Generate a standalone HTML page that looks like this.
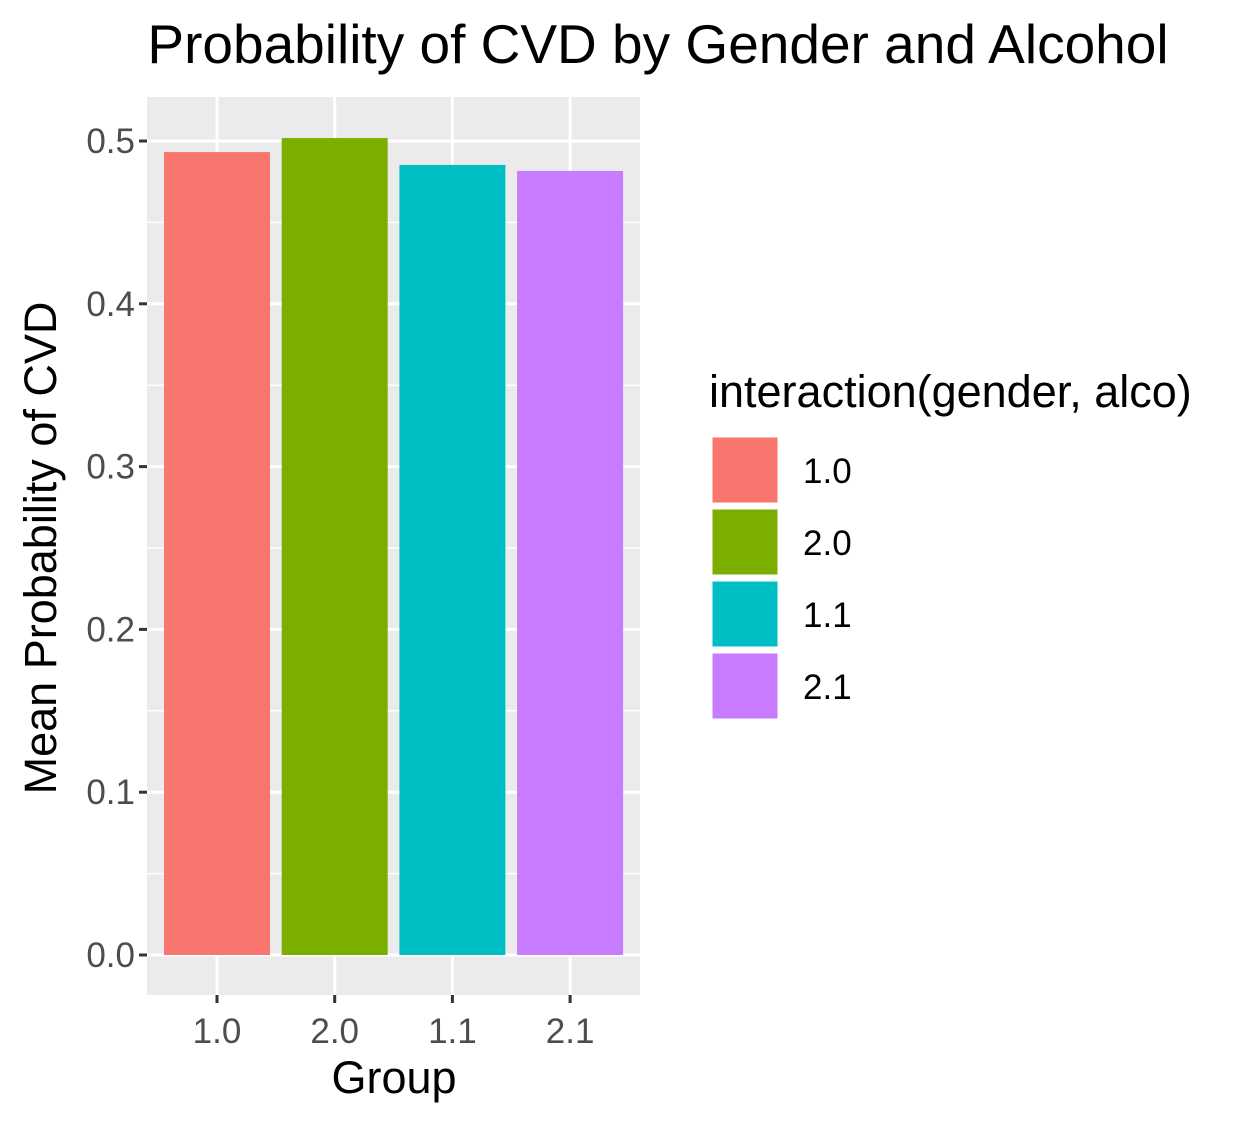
<!DOCTYPE html>
<html><head><meta charset="utf-8"><style>
body{margin:0;background:#fff;font-family:"Liberation Sans",Arial,sans-serif}
</style></head><body>
<svg id="chart" width="1246" height="1125" xmlns="http://www.w3.org/2000/svg">
<text x="658" y="63" font-size="55" text-anchor="middle">Probability of CVD by Gender and Alcohol</text>
<rect x="147" y="97" width="493" height="898" fill="#ebebeb"/>
<g id="grid"></g><g id="bars"></g><g id="axes"></g>
<text x="394" y="1093" font-size="45" text-anchor="middle">Group</text>
<text transform="translate(56,548) rotate(-90)" font-size="45" text-anchor="middle">Mean Probability of CVD</text>
<text x="709" y="407" font-size="45">interaction(gender, alco)</text>
<g id="legend"></g>
</svg>
<script>
const categories=["1.0","2.0","1.1","2.1"];
const values=[0.4932,0.5018,0.4853,0.4816];
const colors=["#f8766d","#7cae00","#00bfc4","#c77cff"];
const yTicks=[0,0.1,0.2,0.3,0.4,0.5];
const NS="http://www.w3.org/2000/svg";
const y=v=>955-v*1628;
const x=i=>217+i*117.7;
const bw=106;
function mk(t,a,p){const e=document.createElementNS(NS,t);for(const k in a)e.setAttribute(k,a[k]);p.appendChild(e);return e;}
const grid=document.getElementById('grid'),bars=document.getElementById('bars'),axes=document.getElementById('axes'),leg=document.getElementById('legend');
for(let i=0;i<yTicks.length-1;i++){const g=mk('line',{x1:147,x2:640,y1:y((yTicks[i]+yTicks[i+1])/2),y2:y((yTicks[i]+yTicks[i+1])/2),stroke:'#fff','stroke-width':1.5},grid);

}
yTicks.forEach(t=>{const g=mk('line',{x1:147,x2:640,y1:y(t),y2:y(t),stroke:'#fff','stroke-width':3},grid);


mk('line',{x1:139,x2:147,y1:y(t),y2:y(t),stroke:'#333','stroke-width':3},axes);
const l=mk('text',{x:135,y:y(t)+12,'font-size':35,fill:'#4d4d4d','text-anchor':'end'},axes);l.textContent=t.toFixed(1);

});
categories.forEach((c,i)=>{const g=mk('line',{x1:x(i),x2:x(i),y1:97,y2:995,stroke:'#fff','stroke-width':3},grid);


const b=mk('rect',{x:x(i)-bw/2,y:y(values[i]),width:bw,height:y(0)-y(values[i]),fill:colors[i]},bars);


mk('line',{x1:x(i),x2:x(i),y1:995,y2:1003,stroke:'#333','stroke-width':3},axes);
const l=mk('text',{x:x(i),y:1043,'font-size':35,fill:'#4d4d4d','text-anchor':'middle'},axes);l.textContent=c;


const s=mk('rect',{x:711,y:436+i*72,width:68,height:68,fill:colors[i],stroke:'#fff','stroke-width':3},leg);


const t=mk('text',{x:803,y:483+i*72,'font-size':35},leg);t.textContent=c;

});
</script>
</body></html>
